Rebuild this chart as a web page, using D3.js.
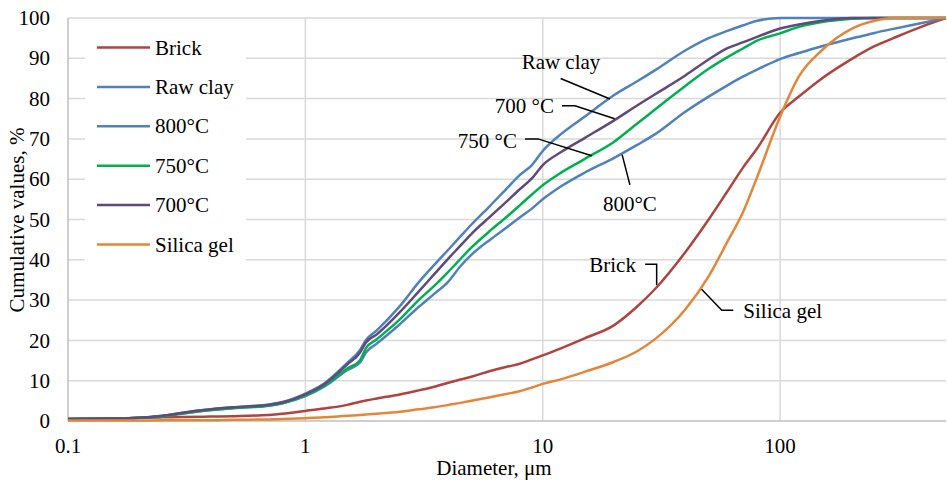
<!DOCTYPE html>
<html>
<head>
<meta charset="utf-8">
<script src="https://cdn.jsdelivr.net/npm/d3@7"></script>
<style>
  html, body { margin: 0; padding: 0; background: #fff; }
  svg { display: block; }
  svg text { font-family: 'Liberation Serif', 'Times New Roman', serif; font-size: 21px; fill: #000; }
</style>
</head>
<body>
<svg id="chart" width="947" height="481"></svg>
<script>
// Cumulative particle size distributions.
const diameters = [0.1, 0.15, 0.2, 0.25, 0.3, 0.4, 0.5, 0.7, 0.8, 1, 1.2, 1.5, 1.7, 1.8, 2, 2.5, 3, 3.5, 4, 4.5, 5,
  6, 7, 8, 9, 10, 12, 15, 20, 25, 30, 40, 50, 60, 70, 80, 100, 120, 150, 200, 250, 300, 400, 500];

const brick =     [0.5, 0.6, 0.8, 0.9, 1.0, 1.1, 1.2, 1.5, 1.8, 2.5, 3.1, 4.0, 4.8, 5.1, 5.6, 6.6, 7.6, 8.5, 9.5, 10.3, 11.0,
  12.4, 13.4, 14.2, 15.3, 16.3, 18.1, 20.5, 23.8, 28.4, 33.0, 42.0, 50.0, 57.0, 63.0, 67.6, 76.5, 80.5, 85.0, 89.8, 93.0, 95.0, 98.0, 100];
const rawClay =   [0.5, 0.6, 0.8, 1.3, 2.0, 2.9, 3.4, 4.1, 4.7, 6.8, 9.3, 14.4, 17.6, 20.1, 22.5, 28.5, 34.4, 38.8, 42.5, 45.8, 48.7,
  53.4, 57.5, 61.0, 63.5, 67.0, 71.3, 75.5, 80.9, 84.3, 87.2, 92.0, 95.0, 96.8, 98.2, 99.3, 100, 100, 100, 100, 100, 100, 100, 100];
const c800 =      [0.5, 0.6, 0.8, 1.2, 1.8, 2.7, 3.2, 3.8, 4.4, 6.2, 8.5, 12.6, 14.5, 17.0, 19.2, 24.0, 28.3, 31.6, 34.6, 38.4, 41.2,
  45.0, 47.9, 50.5, 52.7, 55.0, 58.3, 61.6, 65.3, 68.5, 71.3, 76.8, 80.5, 83.3, 85.5, 87.2, 89.8, 91.3, 93.0, 94.9, 96.3, 97.3, 98.8, 100];
const c750 =      [0.5, 0.6, 0.8, 1.2, 1.8, 2.7, 3.2, 3.8, 4.4, 6.3, 8.7, 13.0, 15.1, 18.1, 20.3, 25.2, 30.0, 33.6, 37.0, 40.2, 43.0,
  47.2, 50.5, 53.5, 56.2, 58.5, 61.7, 65.0, 69.3, 73.8, 77.5, 83.2, 87.4, 90.3, 92.5, 94.4, 96.2, 97.8, 99.0, 99.8, 100, 100, 100, 100];
const c700 =      [0.5, 0.6, 0.8, 1.3, 2.0, 2.9, 3.4, 4.0, 4.6, 6.6, 9.1, 14.0, 17.0, 19.5, 21.5, 27.0, 32.1, 36.5, 40.3, 43.5, 46.4,
  50.7, 54.3, 57.5, 60.2, 63.5, 66.8, 70.2, 74.6, 78.3, 81.2, 85.8, 89.7, 92.5, 94.0, 95.3, 97.4, 98.4, 99.3, 100, 100, 100, 100, 100];
const silicaGel = [0.1, 0.1, 0.1, 0.2, 0.2, 0.2, 0.3, 0.4, 0.5, 0.7, 0.9, 1.3, 1.5, 1.6, 1.8, 2.3, 2.9, 3.4, 4.0, 4.5, 5.0,
  5.9, 6.7, 7.4, 8.3, 9.2, 10.4, 12.2, 14.7, 17.3, 20.5, 27.8, 35.9, 44.5, 52.0, 60.5, 75.5, 85.5, 92.0, 97.3, 99.3, 100, 100, 100];

const seriesNames = ['Brick', 'Raw clay', '800°C', '750°C', '700°C', 'Silica gel'];
const seriesValues = [brick, rawClay, c800, c750, c700, silicaGel];
const seriesColors = ['#b0433f', '#4f81bd', '#4f81bd', '#00b050', '#604a7b', '#e4863a'];

const xTicks = [0.1, 1, 10, 100];
const xTickLabels = ['0.1', '1', '10', '100'];
const yTicks = [0, 10, 20, 30, 40, 50, 60, 70, 80, 90, 100];

// callouts: label, text anchor point [d, %], leader polyline in [d, %]
const callouts = [
  { text: 'Raw clay', at: [11.94, 87.3], anchor: 'middle', path: [[11.9, 85.0], [19.2, 79.9]] },
  { text: '700 °C', at: [11.15, 76.4], anchor: 'end', path: [[12.05, 78.2], [13.67, 78.2], [20.1, 75.0]] },
  { text: '750 °C', at: [7.79, 67.7], anchor: 'end', path: [[8.42, 70.0], [9.55, 70.0], [16.1, 65.8]] },
  { text: '800°C', at: [23.3, 52.1], anchor: 'middle', path: [[21.6, 66.1], [23.3, 58.6]] },
  { text: 'Brick', at: [24.7, 37.0], anchor: 'end', path: [[27.0, 38.9], [30.2, 38.9], [30.2, 33.7]] },
  { text: 'Silica gel', at: [70.0, 25.6], anchor: 'start', path: [[63.5, 27.5], [56.8, 27.5], [46.7, 32.7]] }
];

(function () {
  const svg = d3.select('#chart');
  const left = 68, right = 946, top = 18, bottom = 421;

  const x = d3.scaleLog().domain([0.1, 500]).range([left, right]);
  const y = d3.scaleLinear().domain([0, 100]).range([bottom, top]);

  // gridlines
  const grid = svg.append('g');
  yTicks.filter(v => v > 0).forEach(v => {
    grid.append('line').attr('x1', left).attr('x2', right).attr('y1', y(v)).attr('y2', y(v))
      .attr('stroke', '#d9d9d9').attr('stroke-width', 1.5);
  });
  xTicks.filter(v => v > 0.1).forEach(v => {
    grid.append('line').attr('x1', x(v)).attr('x2', x(v)).attr('y1', top).attr('y2', bottom)
      .attr('stroke', '#d9d9d9').attr('stroke-width', 1.5);
  });
  // axis lines
  grid.append('line').attr('x1', left).attr('x2', left).attr('y1', top).attr('y2', bottom)
    .attr('stroke', '#bfbfbf').attr('stroke-width', 1.5);
  grid.append('line').attr('x1', left).attr('x2', right).attr('y1', bottom).attr('y2', bottom)
    .attr('stroke', '#bfbfbf').attr('stroke-width', 1.5);

  // tick labels
  yTicks.forEach(v => {
    svg.append('text').attr('x', 50).attr('y', y(v)).attr('dy', '0.34em')
      .attr('text-anchor', 'end').text(v);
  });
  xTicks.forEach((v, i) => {
    svg.append('text').attr('x', x(v)).attr('y', 453)
      .attr('text-anchor', 'middle').text(xTickLabels[i]);
  });

  // axis titles
  svg.append('text').attr('x', (left + right) / 2 - 13).attr('y', 475)
    .attr('text-anchor', 'middle').text('Diameter, μm');
  svg.append('text').attr('transform', 'translate(24,220) rotate(-90)')
    .attr('text-anchor', 'middle').text('Cumulative values, %');

  // legend box (white, hides gridlines)
  const leg = svg.append('g');
  leg.append('rect').attr('x', 85).attr('y', 24).attr('width', 161).attr('height', 244).attr('fill', '#fff');
  seriesNames.forEach((name, i) => {
    const ly = 47.5 + i * 39.4;
    leg.append('line').attr('x1', 97).attr('x2', 150).attr('y1', ly).attr('y2', ly)
      .attr('stroke', seriesColors[i]).attr('stroke-width', 2.5);
    leg.append('text').attr('x', 155).attr('y', ly).attr('dy', '0.34em').text(name);
  });

  // curves
  const line = d3.line()
    .x((d, i) => x(diameters[i]))
    .y(d => y(d))
    .curve(d3.curveMonotoneX);
  seriesValues.forEach((vals, i) => {
    svg.append('path').attr('d', line(vals))
      .attr('fill', 'none').attr('stroke', seriesColors[i]).attr('stroke-width', 2.5)
      .attr('stroke-linejoin', 'round');
  });

  // callouts
  const leader = d3.line().x(p => x(p[0])).y(p => y(p[1]));
  callouts.forEach(c => {
    svg.append('path').attr('d', leader(c.path))
      .attr('fill', 'none').attr('stroke', '#000').attr('stroke-width', 1.5);
    svg.append('text').attr('x', x(c.at[0])).attr('y', y(c.at[1]))
      .attr('text-anchor', c.anchor).text(c.text);
  });
})();
</script>
</body>
</html>
